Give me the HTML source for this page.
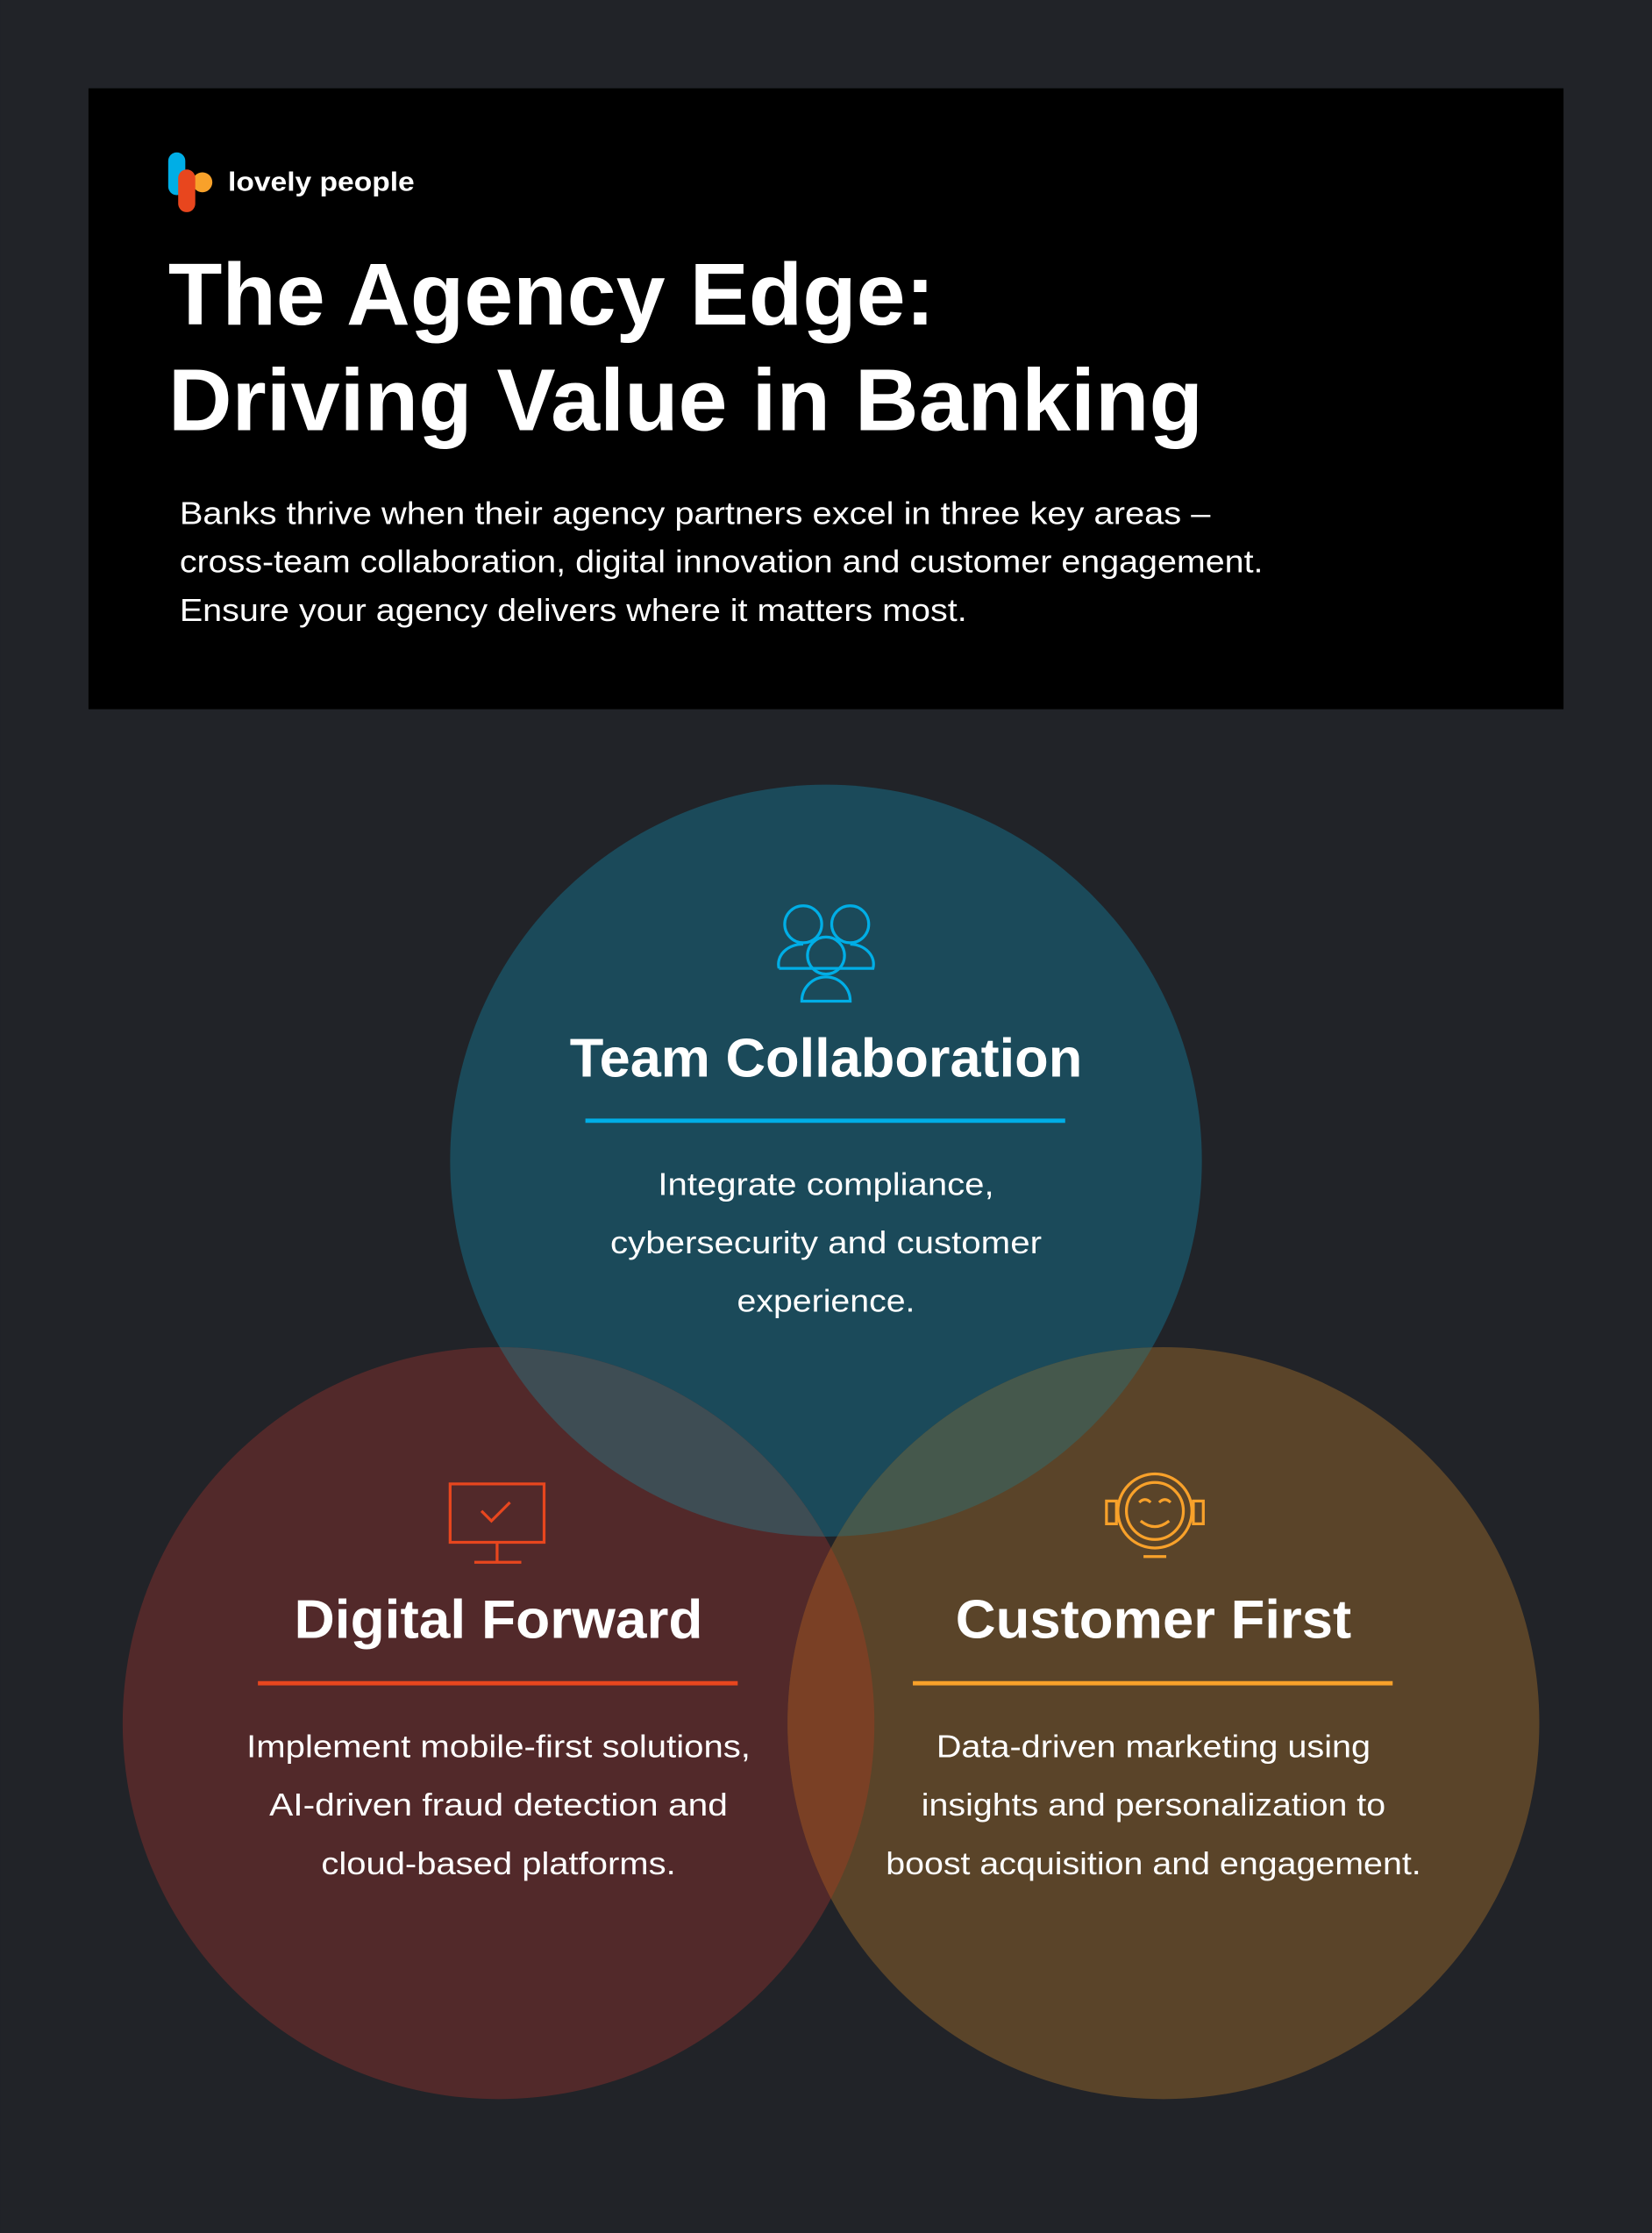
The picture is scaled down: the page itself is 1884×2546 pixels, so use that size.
<!DOCTYPE html>
<html><head><meta charset="utf-8"><style>
html,body{margin:0;padding:0;background:#212328;}
svg{display:block}
text{font-family:"Liberation Sans",sans-serif;}
</style></head><body>
<svg width="1884" height="2546" viewBox="0 0 1160 1568" xmlns="http://www.w3.org/2000/svg">
<defs>
<clipPath id="cT"><circle cx="580" cy="815" r="264"/></clipPath>
<clipPath id="cL"><circle cx="350" cy="1210" r="264"/></clipPath>
<clipPath id="cR"><circle cx="817" cy="1210" r="264"/></clipPath>
</defs>
<rect width="1160" height="1568" fill="#212328"/>
<rect x="62" y="62" width="1036" height="436" fill="#000"/>
<!-- logo -->
<rect x="118" y="107" width="12" height="30" rx="6" fill="#00aee6"/>
<circle cx="142" cy="128" r="7" fill="#f8a12a"/>
<rect x="125" y="119" width="12" height="30" rx="6" fill="#e8461e"/>
<text x="160" y="134" font-size="19" font-weight="bold" fill="#fff" textLength="131" lengthAdjust="spacingAndGlyphs">lovely people</text>
<text x="118" y="228" font-size="62" font-weight="bold" fill="#fff">The Agency Edge:</text>
<text x="118" y="302" font-size="62" font-weight="bold" fill="#fff">Driving Value in Banking</text>
<g font-size="22" fill="#fff">
<text x="126" y="368" textLength="724" lengthAdjust="spacingAndGlyphs">Banks thrive when their agency partners excel in three key areas –</text>
<text x="126" y="402" textLength="761" lengthAdjust="spacingAndGlyphs">cross-team collaboration, digital innovation and customer engagement.</text>
<text x="126" y="436" textLength="553" lengthAdjust="spacingAndGlyphs">Ensure your agency delivers where it matters most.</text>
</g>
<!-- circles -->
<circle cx="580" cy="815" r="264" fill="#1b4a5a"/>
<circle cx="350" cy="1210" r="264" fill="#52292a"/>
<circle cx="817" cy="1210" r="264" fill="#5a4429"/>
<g clip-path="url(#cT)"><circle cx="350" cy="1210" r="264" fill="#3e4d54"/></g>
<g clip-path="url(#cT)"><circle cx="817" cy="1210" r="264" fill="#45584c"/></g>
<g clip-path="url(#cL)"><circle cx="817" cy="1210" r="264" fill="#7a4025"/></g>
<!-- team icon -->
<g fill="none" stroke="#00aee6" stroke-width="2">
<circle cx="564" cy="649" r="13"/><circle cx="597" cy="649" r="13"/>
<path d="M547 680 a17 14 0 0 1 17 -17 M597 663 a17 14 0 0 1 16 17 h-66"/>
<circle cx="580" cy="671" r="13"/>
<path d="M563 703 a17 17 0 0 1 34 0 z"/>
</g>
<text x="580" y="756" font-size="38" font-weight="bold" fill="#fff" text-anchor="middle" textLength="360" lengthAdjust="spacingAndGlyphs">Team Collaboration</text>
<line x1="411" y1="787" x2="748" y2="787" stroke="#00aee6" stroke-width="3"/>
<g font-size="22" fill="#fff" text-anchor="middle">
<text x="580" y="839" textLength="236" lengthAdjust="spacingAndGlyphs">Integrate compliance,</text>
<text x="580" y="880" textLength="303" lengthAdjust="spacingAndGlyphs">cybersecurity and customer</text>
<text x="580" y="921" textLength="125" lengthAdjust="spacingAndGlyphs">experience.</text>
</g>
<!-- monitor -->
<g fill="none" stroke="#e8461e" stroke-width="2">
<rect x="316" y="1042" width="66" height="41"/>
<line x1="349" y1="1083" x2="349" y2="1097"/><line x1="333" y1="1097" x2="366" y2="1097"/>
<path d="M338 1061 l7 7 l13 -13"/>
</g>
<text x="350" y="1150" font-size="38" font-weight="bold" fill="#fff" text-anchor="middle" textLength="287" lengthAdjust="spacingAndGlyphs">Digital Forward</text>
<line x1="181" y1="1182" x2="518" y2="1182" stroke="#e8461e" stroke-width="3"/>
<g font-size="22" fill="#fff" text-anchor="middle">
<text x="350" y="1234" textLength="354" lengthAdjust="spacingAndGlyphs">Implement mobile-first solutions,</text>
<text x="350" y="1275" textLength="322" lengthAdjust="spacingAndGlyphs">AI-driven fraud detection and</text>
<text x="350" y="1316" textLength="249" lengthAdjust="spacingAndGlyphs">cloud-based platforms.</text>
</g>
<!-- headset -->
<g fill="none" stroke="#f8a12a" stroke-width="2">
<circle cx="811" cy="1061" r="26"/><circle cx="811" cy="1061" r="20"/>
<rect x="777" y="1054" width="7" height="16"/><rect x="838" y="1054" width="7" height="16"/>
<path d="M801 1068 q10 8 20 0 M800 1055 q4 -4 8 0 M814 1055 q4 -4 8 0 M803 1093 h16"/>
</g>
<text x="810" y="1150" font-size="38" font-weight="bold" fill="#fff" text-anchor="middle" textLength="278" lengthAdjust="spacingAndGlyphs">Customer First</text>
<line x1="641" y1="1182" x2="978" y2="1182" stroke="#f8a12a" stroke-width="3"/>
<g font-size="22" fill="#fff" text-anchor="middle">
<text x="810" y="1234" textLength="305" lengthAdjust="spacingAndGlyphs">Data-driven marketing using</text>
<text x="810" y="1275" textLength="326" lengthAdjust="spacingAndGlyphs">insights and personalization to</text>
<text x="810" y="1316" textLength="376" lengthAdjust="spacingAndGlyphs">boost acquisition and engagement.</text>
</g>
</svg>
</body></html>
